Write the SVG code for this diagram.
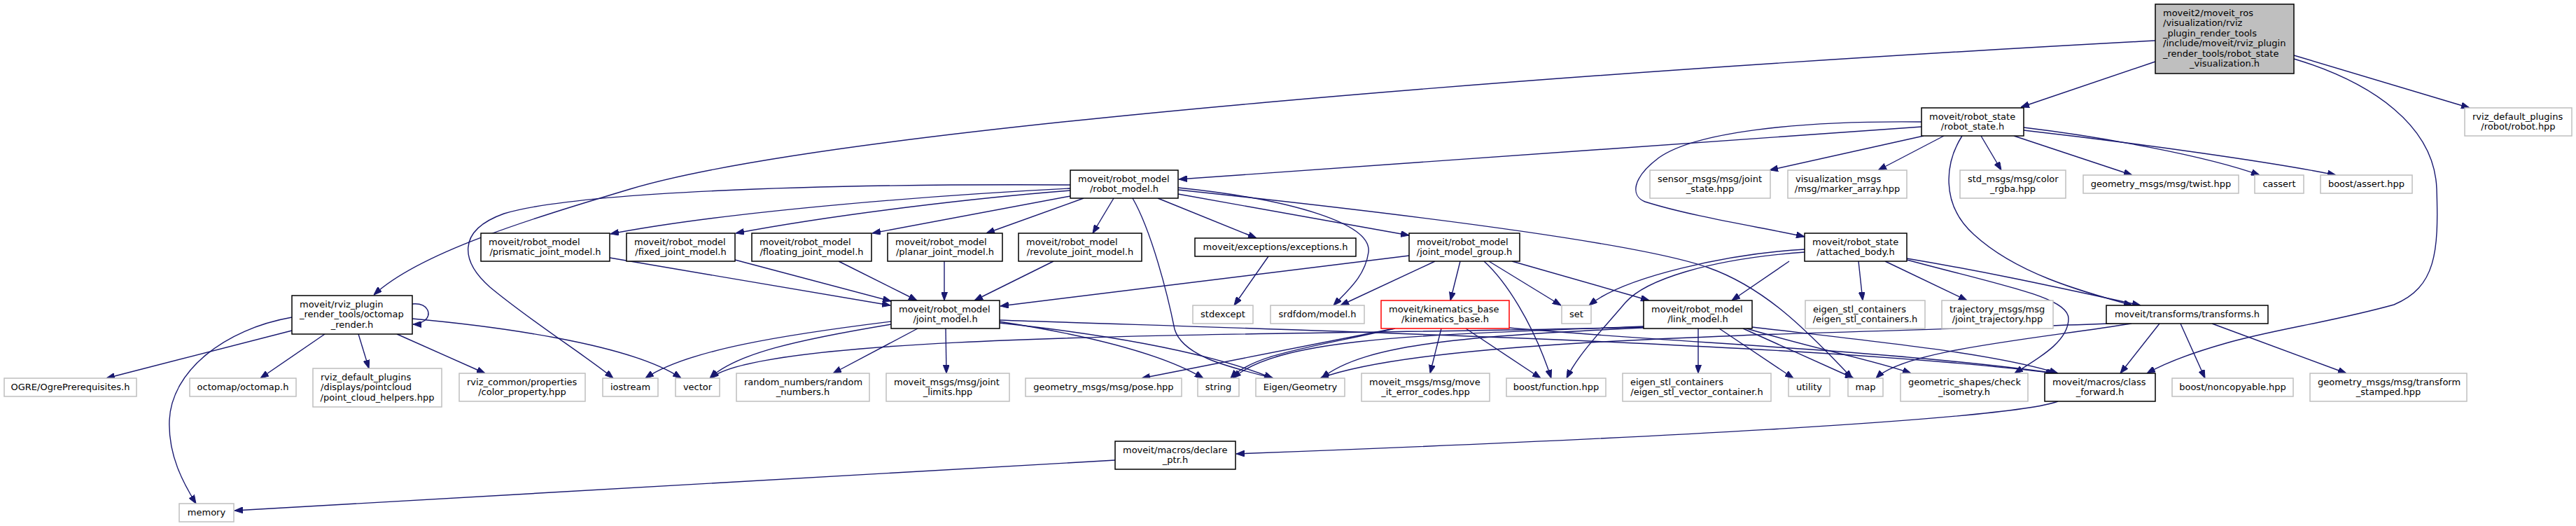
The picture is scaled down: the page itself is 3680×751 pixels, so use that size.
<svg xmlns="http://www.w3.org/2000/svg" width="3680" height="751" viewBox="0 0 3680 751">
<style>
.bg{fill:#ffffff}
.node rect{fill:#ffffff;stroke-width:1.5}
.doc rect{stroke:#000000}
.ext rect{stroke:#bfbfbf}
.red rect{stroke:#ff0000}
.root rect{fill:#bfbfbf;stroke:#000000}
text{font-family:"DejaVu Sans","Liberation Sans",sans-serif;font-size:13px;fill:#000000}
.c{text-anchor:middle}
#edges path{fill:none;stroke:#191970;stroke-width:1.4;marker-end:url(#arr)}
</style>
<defs>
<marker id="arr" viewBox="0 0 12 9" refX="12" refY="4.5" markerWidth="12" markerHeight="9" markerUnits="userSpaceOnUse" orient="auto"><path d="M0,0 L12,4.5 L0,9 z" fill="#191970" stroke="#191970" stroke-width="1"/></marker>
</defs>
<rect class="bg" x="0" y="0" width="3680" height="751"/>
<g id="edges">
<path d="M3079,58 C2300,100 1200,180 900,270 C760,312 600,360 534,421"/>
<path d="M3079,88 L2887,153"/>
<path d="M3277,79 L3528,154"/>
<path d="M3277,84 C3390,118 3478,180 3481,270 C3484,360 3480,410 3420,435 C3330,460 3250,470 3180,490 C3120,507 3090,520 3067,533"/>
<path d="M589,434 C612,432 618,450 606,458 C600,462 596,463 590,463"/>
<path d="M2745,181 L1684,256"/>
<path d="M2745,174 C2560,172 2420,190 2370,225 C2330,255 2330,280 2350,288 C2420,310 2520,325 2578,338"/>
<path d="M2748,194 L2528,243"/>
<path d="M2777,194 L2683,243"/>
<path d="M2803,194 C2780,230 2770,290 2820,335 C2880,390 2970,415 3046,436"/>
<path d="M2830,194 L2859,243"/>
<path d="M2877,194 L3046,250"/>
<path d="M2891,182 C3000,195 3150,222 3228,250"/>
<path d="M2891,186 C3050,204 3250,232 3337,250"/>
<path d="M1529,269 C1350,278 1050,300 872,334"/>
<path d="M1529,272 C1400,282 1200,305 1051,333"/>
<path d="M1529,280 L1246,333"/>
<path d="M1548,283 L1409,333"/>
<path d="M1591,283 L1561,333"/>
<path d="M1654,283 L1795,340"/>
<path d="M1683,268 C1850,285 1960,320 1955,360 C1950,395 1925,415 1905,436"/>
<path d="M1683,277 L2013,336"/>
<path d="M1618,283 C1645,330 1668,420 1678,470 C1690,510 1760,525 1819,540"/>
<path d="M1529,264 C1150,262 820,275 720,305 C650,330 660,375 700,410 C760,460 840,510 876,540"/>
<path d="M1683,271 C2050,310 2350,350 2440,382 C2520,410 2580,470 2646,540"/>
<path d="M871,368 L1272,436"/>
<path d="M1050,371 L1273,430"/>
<path d="M1198,373 L1310,429"/>
<path d="M1349,373 L1349,429"/>
<path d="M1505,373 L1392,429"/>
<path d="M1812,366 L1763,436"/>
<path d="M2013,365 L1429,437"/>
<path d="M2050,373 L1915,436"/>
<path d="M2086,373 L2072,429"/>
<path d="M2120,373 C2150,400 2190,460 2216,540"/>
<path d="M2127,373 L2230,436"/>
<path d="M2160,373 L2356,429"/>
<path d="M2578,356 C2470,362 2320,395 2270,436"/>
<path d="M2578,360 C2440,370 2350,400 2322,432 C2290,470 2255,505 2238,540"/>
<path d="M2556,373 L2474,429"/>
<path d="M2655,373 L2661,429"/>
<path d="M2693,373 L2810,429"/>
<path d="M2724,369 C2850,390 2960,415 3058,436"/>
<path d="M2724,371 C2870,410 2955,425 2955,455 C2955,490 2905,515 2878,533"/>
<path d="M417,472 L152,540"/>
<path d="M464,477 L372,540"/>
<path d="M512,477 L527,526"/>
<path d="M567,477 L693,533"/>
<path d="M589,455 C700,465 900,490 973,540"/>
<path d="M417,453 C320,470 245,530 242,600 C240,650 262,690 280,719"/>
<path d="M1593,657 L335,729"/>
<path d="M2940,573 C2870,600 2300,628 1766,648"/>
<path d="M1273,459 C1120,478 980,500 922,540"/>
<path d="M1273,463 C1140,485 1050,505 1014,540"/>
<path d="M1311,469 L1190,533"/>
<path d="M1351,469 L1352,533"/>
<path d="M1427,459 C1550,478 1660,505 1719,540"/>
<path d="M1427,461 C1560,475 1720,500 1818,540"/>
<path d="M1427,457 C1800,470 2600,490 2935,533"/>
<path d="M1992,469 L1631,540"/>
<path d="M1993,469 C1880,495 1790,505 1758,540"/>
<path d="M2059,469 L2043,533"/>
<path d="M2094,469 L2201,540"/>
<path d="M2156,468 C2400,490 2700,500 2937,533"/>
<path d="M2426,469 L2426,533"/>
<path d="M2456,469 L2562,540"/>
<path d="M2490,469 L2648,540"/>
<path d="M2495,469 C2600,500 2680,515 2730,533"/>
<path d="M2503,467 C2700,490 2850,505 2940,533"/>
<path d="M2348,466 C2050,478 1830,480 1761,540"/>
<path d="M2348,468 C2100,480 1950,490 1888,540"/>
<path d="M2348,467 C1900,480 1100,470 1015,540"/>
<path d="M3085,462 L3029,533"/>
<path d="M3115,462 L3150,540"/>
<path d="M3160,462 L3352,533"/>
<path d="M3045,462 C2900,485 2720,500 2680,540"/>
<path d="M3040,461 C2600,478 2050,480 1886,540"/>
</g>
<g id="n_root" class="node root"><rect x="3079" y="6" width="198" height="99"/><text x="3090" y="22.5">moveit2/moveit_ros</text><text x="3090" y="37">/visualization/rviz</text><text x="3090" y="51.5">_plugin_render_tools</text><text x="3090" y="66">/include/moveit/rviz_plugin</text><text x="3090" y="80.5">_render_tools/robot_state</text><text class="c" x="3178" y="95">_visualization.h</text></g>
<g id="n_robot_state" class="node doc"><rect x="2745" y="154" width="146" height="40"/><text x="2756" y="170.5">moveit/robot_state</text><text class="c" x="2818" y="185">/robot_state.h</text></g>
<g id="n_robot_hpp" class="node ext"><rect x="3521" y="154" width="153" height="40"/><text x="3532" y="170.5">rviz_default_plugins</text><text class="c" x="3597.5" y="185">/robot/robot.hpp</text></g>
<g id="n_robot_model" class="node doc"><rect x="1529" y="243" width="154" height="40"/><text x="1540" y="259.5">moveit/robot_model</text><text class="c" x="1606" y="274">/robot_model.h</text></g>
<g id="n_sensor_msgs" class="node ext"><rect x="2357" y="243" width="172" height="40"/><text x="2368" y="259.5">sensor_msgs/msg/joint</text><text class="c" x="2443" y="274">_state.hpp</text></g>
<g id="n_visualization" class="node ext"><rect x="2554" y="243" width="170" height="40"/><text x="2565" y="259.5">visualization_msgs</text><text class="c" x="2639" y="274">/msg/marker_array.hpp</text></g>
<g id="n_std_msgs" class="node ext"><rect x="2800" y="243" width="151" height="40"/><text x="2811" y="259.5">std_msgs/msg/color</text><text class="c" x="2875.5" y="274">_rgba.hpp</text></g>
<g id="n_twist" class="node ext"><rect x="2976" y="250" width="222" height="26"/><text class="c" x="3087" y="267">geometry_msgs/msg/twist.hpp</text></g>
<g id="n_cassert" class="node ext"><rect x="3221" y="250" width="70" height="26"/><text class="c" x="3256" y="267">cassert</text></g>
<g id="n_boost_assert" class="node ext"><rect x="3315" y="250" width="131" height="26"/><text class="c" x="3380.5" y="267">boost/assert.hpp</text></g>
<g id="n_prismatic" class="node doc"><rect x="687" y="333" width="184" height="40"/><text x="698" y="349.5">moveit/robot_model</text><text class="c" x="779" y="364">/prismatic_joint_model.h</text></g>
<g id="n_fixed" class="node doc"><rect x="895" y="333" width="155" height="40"/><text x="906" y="349.5">moveit/robot_model</text><text class="c" x="972.5" y="364">/fixed_joint_model.h</text></g>
<g id="n_floating" class="node doc"><rect x="1074" y="333" width="171" height="40"/><text x="1085" y="349.5">moveit/robot_model</text><text class="c" x="1159.5" y="364">/floating_joint_model.h</text></g>
<g id="n_planar" class="node doc"><rect x="1268" y="333" width="164" height="40"/><text x="1279" y="349.5">moveit/robot_model</text><text class="c" x="1350" y="364">/planar_joint_model.h</text></g>
<g id="n_revolute" class="node doc"><rect x="1455" y="333" width="176" height="40"/><text x="1466" y="349.5">moveit/robot_model</text><text class="c" x="1543" y="364">/revolute_joint_model.h</text></g>
<g id="n_exceptions" class="node doc"><rect x="1707" y="340" width="230" height="26"/><text class="c" x="1822" y="357">moveit/exceptions/exceptions.h</text></g>
<g id="n_jmg" class="node doc"><rect x="2013" y="333" width="158" height="40"/><text x="2024" y="349.5">moveit/robot_model</text><text class="c" x="2092" y="364">/joint_model_group.h</text></g>
<g id="n_attached_body" class="node doc"><rect x="2578" y="333" width="146" height="40"/><text x="2589" y="349.5">moveit/robot_state</text><text class="c" x="2651" y="364">/attached_body.h</text></g>
<g id="n_octomap_render" class="node doc"><rect x="417" y="422" width="172" height="55"/><text x="428" y="438.5">moveit/rviz_plugin</text><text x="428" y="453">_render_tools/octomap</text><text class="c" x="503" y="467.5">_render.h</text></g>
<g id="n_joint_model" class="node doc"><rect x="1273" y="429" width="155" height="40"/><text x="1284" y="445.5">moveit/robot_model</text><text class="c" x="1350.5" y="460">/joint_model.h</text></g>
<g id="n_stdexcept" class="node ext"><rect x="1704" y="436" width="86" height="26"/><text class="c" x="1747" y="453">stdexcept</text></g>
<g id="n_srdfdom" class="node ext"><rect x="1815" y="436" width="134" height="26"/><text class="c" x="1882" y="453">srdfdom/model.h</text></g>
<g id="n_kinematics" class="node red"><rect x="1973" y="429" width="183" height="40"/><text x="1984" y="445.5">moveit/kinematics_base</text><text class="c" x="2064.5" y="460">/kinematics_base.h</text></g>
<g id="n_set" class="node ext"><rect x="2231" y="436" width="42" height="26"/><text class="c" x="2252" y="453">set</text></g>
<g id="n_link_model" class="node doc"><rect x="2348" y="429" width="155" height="40"/><text x="2359" y="445.5">moveit/robot_model</text><text class="c" x="2425.5" y="460">/link_model.h</text></g>
<g id="n_esc" class="node ext"><rect x="2579" y="429" width="171" height="40"/><text x="2590" y="445.5">eigen_stl_containers</text><text class="c" x="2664.5" y="460">/eigen_stl_containers.h</text></g>
<g id="n_trajectory" class="node ext"><rect x="2774" y="429" width="159" height="40"/><text x="2785" y="445.5">trajectory_msgs/msg</text><text class="c" x="2853.5" y="460">/joint_trajectory.hpp</text></g>
<g id="n_transforms" class="node doc"><rect x="3009" y="436" width="231" height="26"/><text class="c" x="3124.5" y="453">moveit/transforms/transforms.h</text></g>
<g id="n_ogre" class="node ext"><rect x="6" y="540" width="189" height="26"/><text class="c" x="100.5" y="557">OGRE/OgrePrerequisites.h</text></g>
<g id="n_octomap" class="node ext"><rect x="271" y="540" width="152" height="26"/><text class="c" x="347" y="557">octomap/octomap.h</text></g>
<g id="n_pc_helpers" class="node ext"><rect x="447" y="526" width="184" height="55"/><text x="458" y="542.5">rviz_default_plugins</text><text x="458" y="557">/displays/pointcloud</text><text class="c" x="539" y="571.5">/point_cloud_helpers.hpp</text></g>
<g id="n_color_prop" class="node ext"><rect x="656" y="533" width="180" height="40"/><text x="667" y="549.5">rviz_common/properties</text><text class="c" x="746" y="564">/color_property.hpp</text></g>
<g id="n_iostream" class="node ext"><rect x="861" y="540" width="79" height="26"/><text class="c" x="900.5" y="557">iostream</text></g>
<g id="n_vector" class="node ext"><rect x="965" y="540" width="63" height="26"/><text class="c" x="996.5" y="557">vector</text></g>
<g id="n_random" class="node ext"><rect x="1052" y="533" width="190" height="40"/><text x="1063" y="549.5">random_numbers/random</text><text class="c" x="1147" y="564">_numbers.h</text></g>
<g id="n_joint_limits" class="node ext"><rect x="1266" y="533" width="176" height="40"/><text x="1277" y="549.5">moveit_msgs/msg/joint</text><text class="c" x="1354" y="564">_limits.hpp</text></g>
<g id="n_pose" class="node ext"><rect x="1465" y="540" width="223" height="26"/><text class="c" x="1576.5" y="557">geometry_msgs/msg/pose.hpp</text></g>
<g id="n_string" class="node ext"><rect x="1711" y="540" width="59" height="26"/><text class="c" x="1740.5" y="557">string</text></g>
<g id="n_eigen" class="node ext"><rect x="1794" y="540" width="127" height="26"/><text class="c" x="1857.5" y="557">Eigen/Geometry</text></g>
<g id="n_error_codes" class="node ext"><rect x="1945" y="533" width="183" height="40"/><text x="1956" y="549.5">moveit_msgs/msg/move</text><text class="c" x="2036.5" y="564">_it_error_codes.hpp</text></g>
<g id="n_boost_function" class="node ext"><rect x="2152" y="540" width="142" height="26"/><text class="c" x="2223" y="557">boost/function.hpp</text></g>
<g id="n_esvc" class="node ext"><rect x="2318" y="533" width="212" height="40"/><text x="2329" y="549.5">eigen_stl_containers</text><text class="c" x="2424" y="564">/eigen_stl_vector_container.h</text></g>
<g id="n_utility" class="node ext"><rect x="2555" y="540" width="59" height="26"/><text class="c" x="2584.5" y="557">utility</text></g>
<g id="n_map" class="node ext"><rect x="2640" y="540" width="50" height="26"/><text class="c" x="2665" y="557">map</text></g>
<g id="n_check_iso" class="node ext"><rect x="2715" y="533" width="182" height="40"/><text x="2726" y="549.5">geometric_shapes/check</text><text class="c" x="2806" y="564">_isometry.h</text></g>
<g id="n_class_forward" class="node doc"><rect x="2921" y="533" width="158" height="40"/><text x="2932" y="549.5">moveit/macros/class</text><text class="c" x="3000" y="564">_forward.h</text></g>
<g id="n_noncopyable" class="node ext"><rect x="3103" y="540" width="173" height="26"/><text class="c" x="3189.5" y="557">boost/noncopyable.hpp</text></g>
<g id="n_transform_stamped" class="node ext"><rect x="3300" y="533" width="224" height="40"/><text x="3311" y="549.5">geometry_msgs/msg/transform</text><text class="c" x="3412" y="564">_stamped.hpp</text></g>
<g id="n_declare_ptr" class="node doc"><rect x="1593" y="630" width="172" height="40"/><text x="1604" y="646.5">moveit/macros/declare</text><text class="c" x="1679" y="661">_ptr.h</text></g>
<g id="n_memory" class="node ext"><rect x="256" y="719" width="78" height="26"/><text class="c" x="295" y="736">memory</text></g>
</svg>
